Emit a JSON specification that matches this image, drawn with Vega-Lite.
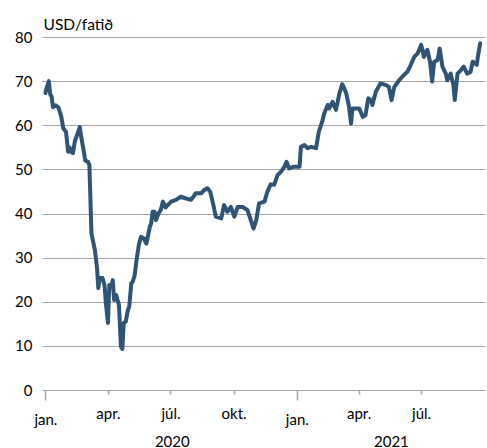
{
  "$schema": "https://vega.github.io/schema/vega-lite/v6.json",
  "width": 443,
  "height": 353,
  "autosize": "none",
  "padding": {"left": 42, "top": 37, "right": 2, "bottom": 58},
  "background": "white",
  "config": {"view": {"stroke": null}, "font": "Lato"},
  "data": {"values": [
    {"date": "2020-01-01", "price": 67.3}, {"date": "2020-01-03", "price": 68.6}, {"date": "2020-01-06", "price": 70.0},
    {"date": "2020-01-08", "price": 67.0}, {"date": "2020-01-10", "price": 66.5}, {"date": "2020-01-12", "price": 64.1},
    {"date": "2020-01-16", "price": 64.5}, {"date": "2020-01-20", "price": 64.0}, {"date": "2020-01-24", "price": 62.0},
    {"date": "2020-01-27", "price": 59.3}, {"date": "2020-01-31", "price": 58.5}, {"date": "2020-02-03", "price": 54.0},
    {"date": "2020-02-05", "price": 55.0}, {"date": "2020-02-07", "price": 54.0}, {"date": "2020-02-10", "price": 53.7},
    {"date": "2020-02-13", "price": 56.5}, {"date": "2020-02-17", "price": 58.2}, {"date": "2020-02-20", "price": 59.6},
    {"date": "2020-02-22", "price": 57.4}, {"date": "2020-02-25", "price": 54.8}, {"date": "2020-02-28", "price": 52.0},
    {"date": "2020-03-03", "price": 51.7}, {"date": "2020-03-05", "price": 51.0}, {"date": "2020-03-08", "price": 35.5},
    {"date": "2020-03-10", "price": 34.0}, {"date": "2020-03-13", "price": 31.7}, {"date": "2020-03-16", "price": 27.9},
    {"date": "2020-03-18", "price": 23.1}, {"date": "2020-03-20", "price": 25.4}, {"date": "2020-03-24", "price": 25.4},
    {"date": "2020-03-27", "price": 23.8}, {"date": "2020-03-29", "price": 19.7}, {"date": "2020-04-01", "price": 15.2},
    {"date": "2020-04-03", "price": 23.8}, {"date": "2020-04-06", "price": 23.4}, {"date": "2020-04-08", "price": 24.9},
    {"date": "2020-04-10", "price": 20.4}, {"date": "2020-04-13", "price": 21.5}, {"date": "2020-04-15", "price": 20.4},
    {"date": "2020-04-17", "price": 19.3}, {"date": "2020-04-20", "price": 9.8}, {"date": "2020-04-22", "price": 9.3},
    {"date": "2020-04-24", "price": 15.2}, {"date": "2020-04-27", "price": 15.5}, {"date": "2020-04-30", "price": 18.1},
    {"date": "2020-05-02", "price": 18.9}, {"date": "2020-05-05", "price": 24.2}, {"date": "2020-05-07", "price": 24.5},
    {"date": "2020-05-10", "price": 26.0}, {"date": "2020-05-12", "price": 28.7}, {"date": "2020-05-16", "price": 32.9},
    {"date": "2020-05-19", "price": 34.7}, {"date": "2020-05-23", "price": 34.4}, {"date": "2020-05-27", "price": 33.2},
    {"date": "2020-06-01", "price": 37.0}, {"date": "2020-06-03", "price": 37.8}, {"date": "2020-06-05", "price": 40.4},
    {"date": "2020-06-08", "price": 40.4}, {"date": "2020-06-10", "price": 38.5}, {"date": "2020-06-14", "price": 40.1},
    {"date": "2020-06-17", "price": 40.8}, {"date": "2020-06-20", "price": 42.7}, {"date": "2020-06-24", "price": 41.4},
    {"date": "2020-06-27", "price": 41.9}, {"date": "2020-07-02", "price": 42.7}, {"date": "2020-07-09", "price": 43.1},
    {"date": "2020-07-16", "price": 43.8}, {"date": "2020-07-24", "price": 43.4}, {"date": "2020-07-31", "price": 43.1},
    {"date": "2020-08-07", "price": 44.6}, {"date": "2020-08-15", "price": 44.6}, {"date": "2020-08-19", "price": 45.3},
    {"date": "2020-08-24", "price": 45.7}, {"date": "2020-08-28", "price": 44.9}, {"date": "2020-09-01", "price": 42.3},
    {"date": "2020-09-05", "price": 39.3}, {"date": "2020-09-13", "price": 38.9}, {"date": "2020-09-17", "price": 41.9},
    {"date": "2020-09-22", "price": 40.4}, {"date": "2020-09-27", "price": 41.5}, {"date": "2020-10-02", "price": 39.3},
    {"date": "2020-10-07", "price": 41.5}, {"date": "2020-10-14", "price": 41.5}, {"date": "2020-10-21", "price": 40.8},
    {"date": "2020-10-26", "price": 38.5}, {"date": "2020-10-30", "price": 36.6}, {"date": "2020-11-03", "price": 38.5},
    {"date": "2020-11-07", "price": 42.3}, {"date": "2020-11-15", "price": 42.7}, {"date": "2020-11-19", "price": 44.9},
    {"date": "2020-11-24", "price": 46.6}, {"date": "2020-11-29", "price": 46.5}, {"date": "2020-12-04", "price": 48.7},
    {"date": "2020-12-09", "price": 49.5}, {"date": "2020-12-14", "price": 50.6}, {"date": "2020-12-17", "price": 51.7},
    {"date": "2020-12-21", "price": 50.2}, {"date": "2020-12-28", "price": 50.6}, {"date": "2021-01-05", "price": 50.6},
    {"date": "2021-01-07", "price": 55.1}, {"date": "2021-01-12", "price": 55.5}, {"date": "2021-01-17", "price": 54.8},
    {"date": "2021-01-22", "price": 55.1}, {"date": "2021-01-29", "price": 54.8}, {"date": "2021-02-02", "price": 58.5},
    {"date": "2021-02-07", "price": 60.8}, {"date": "2021-02-10", "price": 62.7}, {"date": "2021-02-15", "price": 64.6},
    {"date": "2021-02-17", "price": 63.8}, {"date": "2021-02-22", "price": 65.3}, {"date": "2021-02-27", "price": 63.5},
    {"date": "2021-03-04", "price": 67.2}, {"date": "2021-03-08", "price": 69.3}, {"date": "2021-03-11", "price": 68.4},
    {"date": "2021-03-14", "price": 67.2}, {"date": "2021-03-18", "price": 64.2}, {"date": "2021-03-21", "price": 60.4},
    {"date": "2021-03-23", "price": 63.8}, {"date": "2021-03-28", "price": 63.8}, {"date": "2021-04-02", "price": 63.8},
    {"date": "2021-04-07", "price": 61.9}, {"date": "2021-04-11", "price": 62.3}, {"date": "2021-04-15", "price": 66.1},
    {"date": "2021-04-19", "price": 65.7}, {"date": "2021-04-21", "price": 64.6}, {"date": "2021-04-26", "price": 67.6},
    {"date": "2021-05-03", "price": 69.5}, {"date": "2021-05-11", "price": 69.1}, {"date": "2021-05-15", "price": 68.7},
    {"date": "2021-05-19", "price": 65.7}, {"date": "2021-05-23", "price": 68.7}, {"date": "2021-05-30", "price": 70.2},
    {"date": "2021-06-06", "price": 71.4}, {"date": "2021-06-11", "price": 72.1}, {"date": "2021-06-16", "price": 73.7},
    {"date": "2021-06-21", "price": 75.5}, {"date": "2021-06-26", "price": 76.3}, {"date": "2021-07-01", "price": 78.2},
    {"date": "2021-07-03", "price": 77.1}, {"date": "2021-07-05", "price": 75.5}, {"date": "2021-07-10", "price": 77.1},
    {"date": "2021-07-14", "price": 74.4}, {"date": "2021-07-17", "price": 69.9}, {"date": "2021-07-20", "price": 74.4},
    {"date": "2021-07-25", "price": 74.8}, {"date": "2021-07-28", "price": 77.4}, {"date": "2021-08-01", "price": 73.3},
    {"date": "2021-08-06", "price": 71.7}, {"date": "2021-08-08", "price": 70.2}, {"date": "2021-08-13", "price": 71.7},
    {"date": "2021-08-17", "price": 69.1}, {"date": "2021-08-19", "price": 65.7}, {"date": "2021-08-23", "price": 71.7},
    {"date": "2021-08-28", "price": 72.5}, {"date": "2021-09-01", "price": 73.3}, {"date": "2021-09-06", "price": 71.7},
    {"date": "2021-09-11", "price": 72.1}, {"date": "2021-09-14", "price": 74.4}, {"date": "2021-09-18", "price": 74.0},
    {"date": "2021-09-20", "price": 73.7}, {"date": "2021-09-22", "price": 75.9}, {"date": "2021-09-25", "price": 78.6}
  ]},
  "layer": [
    {
      "mark": {"type": "line", "color": "#2f5476", "strokeWidth": 4, "strokeJoin": "round", "strokeCap": "round"},
      "encoding": {
        "x": {
          "field": "date", "type": "temporal",
          "scale": {"type": "utc", "domain": [{"year": 2019, "month": 12, "date": 27, "utc": true}, {"year": 2021, "month": 10, "date": 2, "utc": true}]},
          "axis": {
            "orient": "bottom",
            "title": null,
            "grid": false,
            "values": [
              {"year": 2020, "month": 1, "date": 1, "utc": true}, {"year": 2020, "month": 4, "date": 1, "utc": true},
              {"year": 2020, "month": 7, "date": 1, "utc": true}, {"year": 2020, "month": 10, "date": 1, "utc": true},
              {"year": 2021, "month": 1, "date": 1, "utc": true}, {"year": 2021, "month": 4, "date": 1, "utc": true},
              {"year": 2021, "month": 7, "date": 1, "utc": true}
            ],
            "labelExpr": "['jan.','feb.','mar.','apr.','maí','jún.','júl.','ágú.','sep.','okt.','nóv.','des.'][utcmonth(datum.value)]",
            "domainColor": "#a6a6a6",
            "domainWidth": 1.2,
            "tickColor": "#a6a6a6",
            "tickWidth": 1.5,
            "tickSize": {"condition": {"test": "utcmonth(datum.value) === 0", "value": 10}, "value": 4},
            "labelPadding": 12,
            "labelFont": "Lato",
            "labelFontSize": 15,
            "labelColor": "#000000",
            "labelFlush": false,
            "labelOverlap": false
          }
        },
        "y": {
          "field": "price", "type": "quantitative",
          "scale": {"domain": [0, 80], "nice": false},
          "axis": {
            "values": [0, 10, 20, 30, 40, 50, 60, 70, 80],
            "ticks": false,
            "domain": false,
            "grid": true,
            "gridColor": "#a6a6a6",
            "gridWidth": 1.2,
            "labelPadding": 10,
            "labelFont": "Lato",
            "labelFontSize": 15,
            "labelColor": "#000000",
            "title": "USD/fatið",
            "titleAngle": 0,
            "titleX": 1,
            "titleY": -8,
            "titleAlign": "left",
            "titleBaseline": "alphabetic",
            "titleFont": "Lato",
            "titleFontSize": 15.5,
            "titleFontWeight": "normal",
            "titleColor": "#000000"
          }
        }
      }
    },
    {
      "mark": {"type": "line", "opacity": 0},
      "encoding": {
        "x": {
          "field": "date", "type": "temporal",
          "axis": {
            "orient": "bottom",
            "title": null,
            "grid": false,
            "domain": false,
            "ticks": false,
            "values": [{"year": 2020, "month": 7, "date": 3, "utc": true}, {"year": 2021, "month": 5, "date": 18, "utc": true}],
            "labelExpr": "'' + utcyear(datum.value)",
            "labelPadding": 44,
            "labelFont": "Lato",
            "labelFontSize": 15,
            "labelColor": "#000000",
            "labelFlush": false,
            "labelOverlap": false
          }
        },
        "y": {"field": "price", "type": "quantitative"}
      }
    }
  ],
  "resolve": {"axis": {"x": "independent"}}
}
